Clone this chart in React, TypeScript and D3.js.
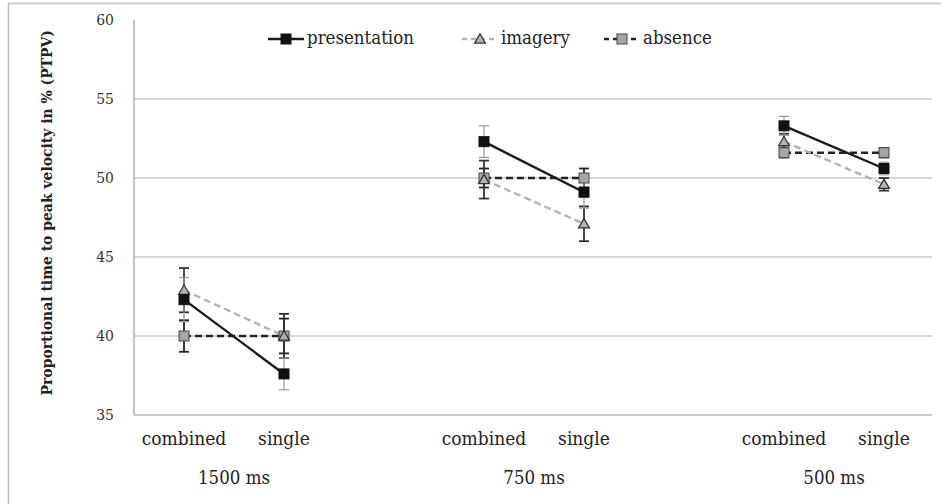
import React, { useEffect, useRef } from 'react';
import * as d3 from 'd3';

// slots along x; blank slots separate the three SOA groups
const slots = ['c1500', 's1500', 'gap1', 'c750', 's750', 'gap2', 'c500', 's500'];
const conditionLabels = ['combined', 'single', '', 'combined', 'single', '', 'combined', 'single'];
const groups = [
  { label: '1500 ms', slots: ['c1500', 's1500'] },
  { label: '750 ms', slots: ['c750', 's750'] },
  { label: '500 ms', slots: ['c500', 's500'] },
];
const yTicks = [35, 40, 45, 50, 55, 60];

// means per group: [combined, single]
const presentation = [[42.3, 37.6], [52.3, 49.1], [53.3, 50.6]];
const imagery = [[42.9, 40.0], [49.9, 47.1], [52.3, 49.6]];
const absence = [[40.0, 40.0], [50.0, 50.0], [51.6, 51.6]];

const presentationErr = [[1.4, 1.0], [1.0, 1.0], [0.6, 0.4]];
const imageryErr = [[1.4, 1.4], [1.2, 1.1], [0.5, 0.4]];
const absenceErr = [[1.0, 1.1], [0.6, 0.6], [0.3, 0.3]];

interface Series {
  name: string;
  values: number[][];
  errors: number[][];
  line: string;
  width: number;
  dash: string | null;
  marker: 'square' | 'triangle';
  fill: string;
  stroke: string;
  errColor: string;
}

const series: Series[] = [
  { name: 'absence', values: absence, errors: absenceErr, line: '#222', width: 2.4, dash: '7,4', marker: 'square', fill: '#a6a6a6', stroke: '#444', errColor: '#222' },
  { name: 'imagery', values: imagery, errors: imageryErr, line: '#b3b3b3', width: 2.4, dash: '7,4', marker: 'triangle', fill: '#b3b3b3', stroke: '#333', errColor: '#333' },
  { name: 'presentation', values: presentation, errors: presentationErr, line: '#1a1a1a', width: 2.4, dash: null, marker: 'square', fill: '#111', stroke: '#111', errColor: '#999' },
];
const legendOrder = ['presentation', 'imagery', 'absence'];

const W = 941;
const H = 504;
const FONT = 'DejaVu Serif Condensed, DejaVu Serif, serif';

export default function App() {
  const svgRef = useRef<SVGSVGElement>(null);

  useEffect(() => {
    if (!svgRef.current) return;
    const svg = d3.select(svgRef.current);
    svg.selectAll('*').remove();

    const x = d3.scaleBand().domain(slots).range([134, 934]);
    const y = d3.scaleLinear().domain([35, 60]).range([415, 20]);
    const cx = (s: string) => (x(s) || 0) + x.bandwidth() / 2;

    // outer frame
    svg.append('rect')
      .attr('x', 8.5).attr('y', 3.5).attr('width', W).attr('height', H)
      .attr('fill', 'none').attr('stroke', '#bdbdbd').attr('stroke-width', 1.5);

    // gridlines
    svg.append('g').selectAll('line')
      .data(yTicks.filter(t => t > 35 && t < 60))
      .enter().append('line')
      .attr('x1', 134).attr('x2', 932)
      .attr('y1', d => y(d)).attr('y2', d => y(d))
      .attr('stroke', '#b0b0b0').attr('stroke-width', 1.2);

    // axes lines
    svg.append('line').attr('x1', 134).attr('x2', 932).attr('y1', y(35)).attr('y2', y(35))
      .attr('stroke', '#9a9a9a').attr('stroke-width', 1.2);
    svg.append('line').attr('x1', 134).attr('x2', 134).attr('y1', y(60)).attr('y2', y(35))
      .attr('stroke', '#9a9a9a').attr('stroke-width', 1.2);

    // y tick labels
    svg.append('g').selectAll('text')
      .data(yTicks).enter().append('text')
      .attr('x', 114).attr('y', d => y(d) + 5)
      .attr('text-anchor', 'end')
      .attr('font-family', FONT).attr('font-size', 15.5).attr('fill', '#333')
      .text(d => d);

    // y title
    svg.append('text')
      .attr('transform', `translate(52, ${y(47.8)}) rotate(-90)`)
      .attr('text-anchor', 'middle')
      .attr('font-family', FONT).attr('font-size', 15.5).attr('font-weight', 'bold').attr('fill', '#222')
      .text('Proportional time to peak velocity in % (PTPV)');

    // condition labels
    svg.append('g').selectAll('text')
      .data(slots.map((s, i) => ({ s, label: conditionLabels[i] })).filter(d => d.label))
      .enter().append('text')
      .attr('x', d => cx(d.s)).attr('y', 445)
      .attr('text-anchor', 'middle')
      .attr('font-family', FONT).attr('font-size', 19).attr('fill', '#222')
      .text(d => d.label);

    // group labels
    svg.append('g').selectAll('text')
      .data(groups).enter().append('text')
      .attr('x', d => (cx(d.slots[0]) + cx(d.slots[1])) / 2).attr('y', 484)
      .attr('text-anchor', 'middle')
      .attr('font-family', FONT).attr('font-size', 18.5).attr('fill', '#222')
      .text(d => d.label);

    const drawMarker = (g: d3.Selection<SVGGElement, unknown, null, undefined>, s: Series, px: number, py: number) => {
      if (s.marker === 'square') {
        g.append('rect').attr('x', px - 5).attr('y', py - 5).attr('width', 10).attr('height', 10)
          .attr('fill', s.fill).attr('stroke', s.stroke).attr('stroke-width', 1);
      } else {
        const tri = d3.symbol().type(d3.symbolTriangle).size(50);
        g.append('path').attr('d', tri() || '').attr('transform', `translate(${px},${py + 1})`)
          .attr('fill', s.fill).attr('stroke', s.stroke).attr('stroke-width', 1.3);
      }
    };

    // error bars first
    const errG = svg.append('g');
    series.forEach(s => {
      groups.forEach((g, gi) => {
        g.slots.forEach((slot, ci) => {
          const v = s.values[gi][ci];
          const e = s.errors[gi][ci];
          const px = cx(slot);
          const w = s.errColor === '#999' ? 1.2 : 1.8;
          errG.append('line').attr('x1', px).attr('x2', px).attr('y1', y(v - e)).attr('y2', y(v + e))
            .attr('stroke', s.errColor).attr('stroke-width', w);
          [v - e, v + e].forEach(t => {
            errG.append('line').attr('x1', px - 5).attr('x2', px + 5).attr('y1', y(t)).attr('y2', y(t))
              .attr('stroke', s.errColor).attr('stroke-width', w);
          });
        });
      });
    });

    // lines and markers
    const lineG = svg.append('g');
    series.forEach(s => {
      groups.forEach((g, gi) => {
        const pts = g.slots.map((slot, ci) => [cx(slot), y(s.values[gi][ci])] as [number, number]);
        lineG.append('path').attr('d', d3.line()(pts) || '')
          .attr('fill', 'none').attr('stroke', s.line).attr('stroke-width', s.width)
          .attr('stroke-dasharray', s.dash);
      });
    });
    series.forEach(s => {
      groups.forEach((g, gi) => {
        g.slots.forEach((slot, ci) => drawMarker(lineG, s, cx(slot), y(s.values[gi][ci])));
      });
    });

    // legend
    const legendX = [268, 462, 604];
    const leg = svg.append('g');
    legendOrder.forEach((name, i) => {
      const s = series.find(d => d.name === name)!;
      const lx = legendX[i];
      const ly = 39;
      leg.append('line').attr('x1', lx).attr('x2', lx + 36).attr('y1', ly).attr('y2', ly)
        .attr('stroke', s.line).attr('stroke-width', s.width).attr('stroke-dasharray', s.dash ? '5,4' : null);
      drawMarker(leg, s, lx + 18, ly);
      leg.append('text').attr('x', lx + 39).attr('y', ly + 5)
        .attr('font-family', FONT).attr('font-size', 18.5).attr('fill', '#222')
        .text(name);
    });
  }, []);

  return (
    <svg
      ref={svgRef}
      width={W}
      height={H}
      style={{ position: 'absolute', left: 0, top: 0, background: '#fff' }}
    />
  );
}
